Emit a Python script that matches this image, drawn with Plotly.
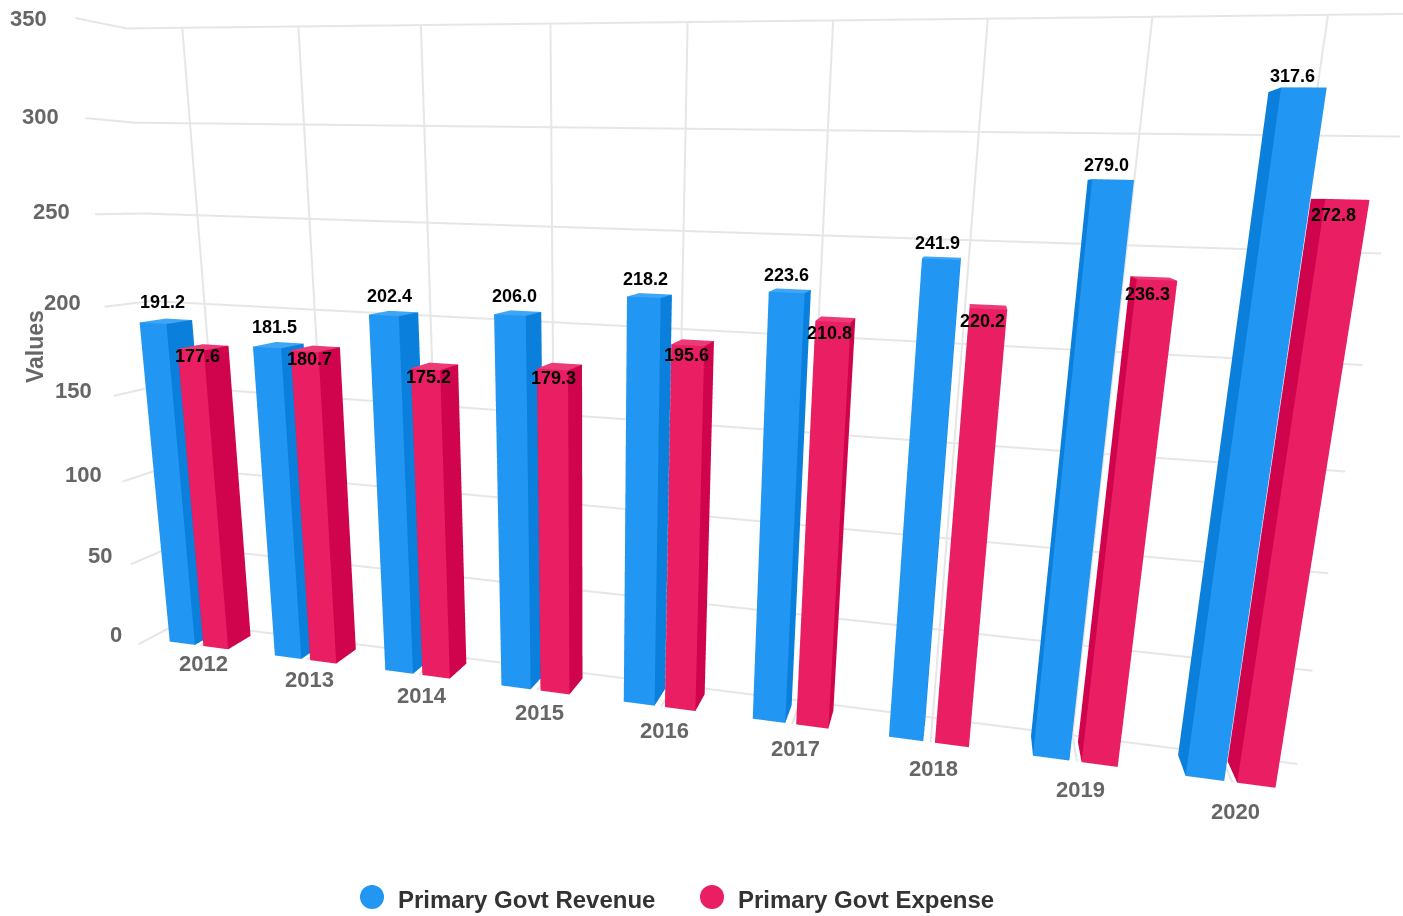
import plotly.graph_objects as go

categories = ["2012", "2013", "2014", "2015", "2016", "2017", "2018", "2019", "2020"]
revenue = [191.2, 181.5, 202.4, 206.0, 218.2, 223.6, 241.9, 279.0, 317.6]
expense = [177.6, 180.7, 175.2, 179.3, 195.6, 210.8, 220.2, 236.3, 272.8]
value_ticks = [0, 50, 100, 150, 200, 250, 300, 350]

BLUE = ["#2196F3", "#0A7FDC", "#3FA6F6"]
PINK = ["#E91E63", "#D0044C", "#EC3A78"]
GRID = "#E6E6E6"
XR = [-0.5, 8.5]
YR = [0, 1]
ZR = [0, 350]
XPAD, YPAD, ZPAD = 0.01, 0.01, 1.0
REV_X = (-0.2950, -0.0514)
EXP_X = (0.0300, 0.2669)
DEPTH = (0.2303, 0.8084)
FONT = "Liberation Sans, Arial, sans-serif"


def box_mesh(values, offs, colors, name):
    xs, ys, zs, ii, jj, kk, fc = [], [], [], [], [], [], []
    quads = [((0, 1, 5, 4), 0), ((1, 2, 6, 5), 1), ((3, 0, 4, 7), 1),
             ((4, 5, 6, 7), 2), ((2, 3, 7, 6), 1)]
    for c, v in enumerate(values):
        n = len(xs)
        x0, x1 = c + offs[0], c + offs[1]
        y0, y1 = DEPTH
        for z in (0, v):
            for x, y in ((x0, y0), (x1, y0), (x1, y1), (x0, y1)):
                xs.append(x); ys.append(y); zs.append(z)
        for q, col in quads:
            a, b, cc, d = [n + t for t in q]
            ii += [a, a]; jj += [b, cc]; kk += [cc, d]; fc += [colors[col]] * 2
    return go.Mesh3d(x=xs, y=ys, z=zs, i=ii, j=jj, k=kk, facecolor=fc, flatshading=True, name=name,
                     lighting=dict(ambient=1, diffuse=0, specular=0, fresnel=0, roughness=1),
                     hoverinfo="skip", showscale=False)


gx, gy, gz = [], [], []
for v in value_ticks:
    gx += [XR[0], XR[0], XR[1], None]; gy += [YR[0], YR[1], YR[1], None]; gz += [v, v, v, None]
for c in range(len(categories)):
    gx += [c, c, c, None]; gy += [DEPTH[0], YR[1], YR[1], None]; gz += [ZR[0], ZR[0], ZR[1], None]

fig = go.Figure()
fig.add_trace(go.Scatter3d(x=gx, y=gy, z=gz, mode="lines", line=dict(color=GRID, width=4), hoverinfo="skip", showlegend=False))
fig.add_trace(box_mesh(revenue, REV_X, BLUE, "Primary Govt Revenue"))
fig.add_trace(box_mesh(expense, EXP_X, PINK, "Primary Govt Expense"))

anns = []
ymid = sum(DEPTH) / 2
last = len(categories) - 1
for c, (r, e) in enumerate(zip(revenue, expense)):
    t = c / last
    anns.append(dict(x=c + sum(REV_X) / 2, y=ymid, z=r, text=f"{r:.1f}", xshift=-4, yshift=19 - 5 * t, showarrow=False,
                     font=dict(family=FONT, size=18, color="#000000", weight="bold")))
    anns.append(dict(x=c + sum(EXP_X) / 2, y=ymid, z=e, text=f"{e:.1f}", xshift=-6, yshift=-9 - 7 * t, showarrow=False,
                     font=dict(family=FONT, size=18, color="#000000", weight="bold")))
    anns.append(dict(x=c, y=DEPTH[0], z=0, text=categories[c], xshift=3, yshift=-18 - 11 * t, showarrow=False,
                     font=dict(family=FONT, size=22, color="#666666", weight="bold")))
for v in value_ticks:
    t = v / ZR[1]
    anns.append(dict(x=XR[0], y=YR[0], z=v, text=str(v), xanchor="right", xshift=-15 - 11 * t, yshift=10 * (1 - t), showarrow=False,
                     font=dict(family=FONT, size=22, color="#666666", weight="bold")))

hidden = dict(visible=False, showgrid=False, zeroline=False, showbackground=False, showspikes=False)
fig.update_layout(
    width=1403, height=916, margin=dict(l=0, r=0, t=0, b=0), paper_bgcolor="white", showlegend=False,
    scene=dict(
        domain=dict(x=[0, 1], y=[0, 1]), dragmode="orbit",
        xaxis=dict(range=[XR[0] - XPAD, XR[1] + XPAD], **hidden),
        yaxis=dict(range=[YR[0] - YPAD, YR[1] + YPAD], **hidden),
        zaxis=dict(range=[ZR[0] - ZPAD, ZR[1] + ZPAD], **hidden),
        aspectmode="manual",
        aspectratio=dict(x=2.5308 * (9 + 2 * XPAD) / 9, y=0.1453 * (1 + 2 * YPAD), z=1.3826 * (350 + 2 * ZPAD) / 350),
        camera=dict(eye=dict(x=0.5676, y=-2.1257, z=0.3705), center=dict(x=0.0786, y=-0.0547, z=-0.1385),
                    up=dict(x=-0.0244, y=0, z=1), projection=dict(type="perspective")),
        annotations=anns,
    ),
    annotations=[
        dict(xref="paper", yref="paper", x=35 / 1403, y=1 - 347 / 916, text="Values", textangle=-90, showarrow=False,
             xanchor="center", yanchor="middle", font=dict(family=FONT, size=23, color="#666666", weight="bold")),
        dict(xref="paper", yref="paper", x=396 / 1403, y=1 - 899 / 916, text="Primary Govt Revenue", xanchor="left", yanchor="middle", showarrow=False,
             font=dict(family=FONT, size=24, color="#333333", weight="bold")),
        dict(xref="paper", yref="paper", x=736 / 1403, y=1 - 899 / 916, text="Primary Govt Expense", xanchor="left", yanchor="middle", showarrow=False,
             font=dict(family=FONT, size=24, color="#333333", weight="bold")),
    ],
    shapes=[
        dict(type="circle", xref="paper", yref="paper", x0=360 / 1403, x1=384 / 1403, y0=1 - 909 / 916, y1=1 - 885 / 916, fillcolor=BLUE[0], line_width=0),
        dict(type="circle", xref="paper", yref="paper", x0=700 / 1403, x1=724 / 1403, y0=1 - 909 / 916, y1=1 - 885 / 916, fillcolor=PINK[0], line_width=0),
    ],
)
fig.write_html("out.html", config=dict(displayModeBar=False), post_script="document.body.style.margin='0';")
